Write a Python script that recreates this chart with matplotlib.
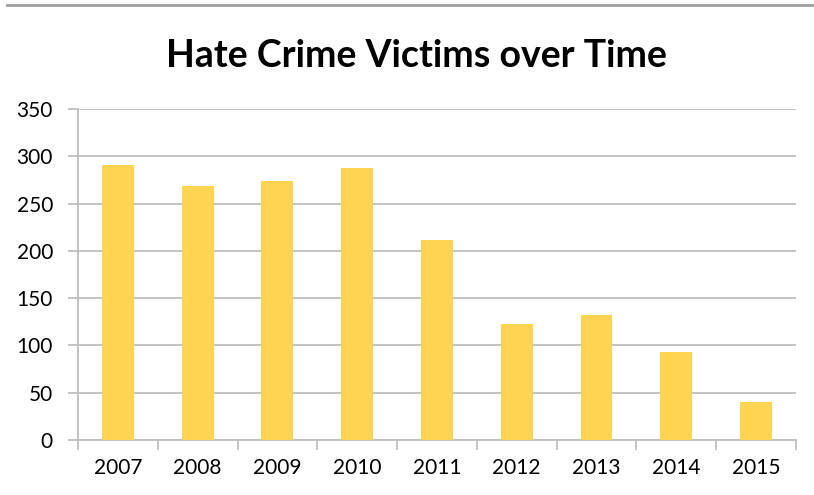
import numpy as np
import matplotlib.pyplot as plt
from matplotlib.lines import Line2D

years = ['2007', '2008', '2009', '2010', '2011', '2012', '2013', '2014', '2015']
victims = [291, 268, 274, 288, 211, 123, 132, 93, 40]

plt.rcParams['font.family'] = ['Lato', 'DejaVu Sans']

fig = plt.figure(figsize=(8.14, 4.95), dpi=100)
ax = fig.add_axes([0.0958, 0.111, 0.882, 0.669])

x = np.arange(len(years))
ax.bar(x, victims, width=0.4, color='#FFD452', zorder=3)

ax.set_xlim(-0.5, len(years) - 0.5)
ax.set_ylim(0, 350)
ax.set_yticks(np.arange(0, 351, 50))
ax.set_xticks(x)
ax.set_xticklabels(years)
ax.set_xticks(np.arange(-0.5, len(years), 1), minor=True)

grid_col = '#BEBEBE'
ax.yaxis.grid(True, color=grid_col, linewidth=1.3, zorder=0)
for side in ['top', 'right']:
    ax.spines[side].set_visible(False)
for side in ['left', 'bottom']:
    ax.spines[side].set_color(grid_col)
    ax.spines[side].set_linewidth(1.3)

ax.tick_params(axis='y', length=7, color=grid_col, width=1.3, labelsize=15, pad=11)
ax.tick_params(axis='x', which='major', length=0, labelsize=15, pad=13)
ax.tick_params(axis='x', which='minor', length=7, color=grid_col, width=1.3)

fig.text(0.511, 0.887, 'Hate Crime Victims over Time', ha='center', va='center',
         fontsize=27, fontweight='bold')

fig.add_artist(Line2D([0.008, 1.0], [0.99, 0.99], transform=fig.transFigure,
                      color='#A0A0A0', linewidth=2))

fig.savefig('out.png', dpi=100)
